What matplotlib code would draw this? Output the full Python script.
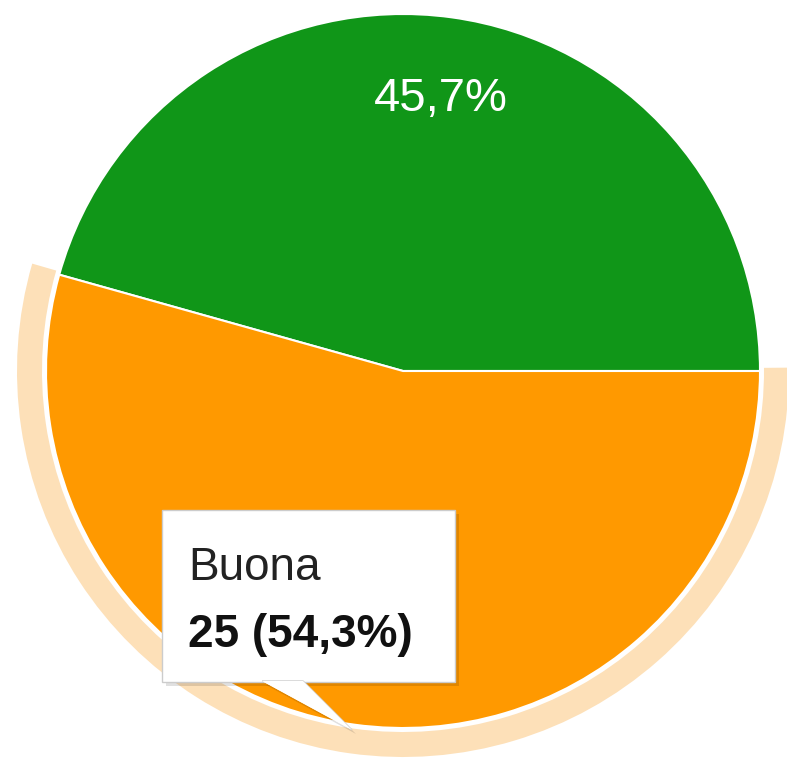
import matplotlib
matplotlib.use("Agg")
import matplotlib.pyplot as plt
import numpy as np
from matplotlib.patches import Wedge, Rectangle, Polygon

plt.rcParams["font.family"] = ["Liberation Sans", "DejaVu Sans"]

# data
labels = ["Altro", "Buona"]
counts = [21, 25]
colors = ["#109618", "#ff9900"]
pct_labels = ["45,7%", "54,3%"]
hover_idx = 1  # slice with tooltip / highlight

W, H = 787, 758
fig = plt.figure(figsize=(W / 100, H / 100), dpi=100)
ax = fig.add_axes([0, 0, 1, 1])

cx, cy, R = 403, H - 371, 357

wedges, _ = ax.pie(counts, colors=colors, startangle=0, counterclock=True,
                   center=(cx, cy), radius=R, frame=True,
                   wedgeprops=dict(edgecolor="white", linewidth=1.5))
ax.set_xlim(0, W)
ax.set_ylim(0, H)
ax.set_aspect("equal")
ax.axis("off")

# percentage label only on the slice without the tooltip
w0 = wedges[0]
mid = np.deg2rad((w0.theta1 + w0.theta2) / 2)
ax.text(cx + 0.77 * R * np.cos(mid), cy + 0.77 * R * np.sin(mid), pct_labels[0],
        color="white", fontsize=34, ha="center", va="center")

# highlight ring on hovered slice
wh = wedges[hover_idx]
ax.add_patch(Wedge((cx, cy), R + 29, wh.theta1 - 0.5, wh.theta2 + 0.5, width=25,
                   facecolor="#fde0b8", edgecolor="none", zorder=0))

# tooltip
bx0, by0, bx1, by1 = 162, H - 682, 455, H - 510
tail = [(262, by0 + 1), (303, by0 + 1), (352, H - 730)]
shadow_off = 4
ax.add_patch(Rectangle((bx0 + shadow_off, by0 - shadow_off), bx1 - bx0, by1 - by0,
                       facecolor="black", alpha=0.12, edgecolor="none", zorder=4))
ax.add_patch(Polygon([(x + shadow_off, y - shadow_off) for x, y in tail],
                     facecolor="black", alpha=0.12, edgecolor="none", zorder=4))
ax.add_patch(Rectangle((bx0, by0), bx1 - bx0, by1 - by0, facecolor="white",
                       edgecolor="#cccccc", linewidth=1, zorder=5))
ax.add_patch(Polygon(tail, closed=False, facecolor="white", edgecolor="#cccccc",
                     linewidth=1, zorder=5))
ax.add_patch(Polygon(tail, facecolor="white", edgecolor="none", zorder=6))

ax.text(188, H - 580, labels[hover_idx], fontsize=33, color="#222222",
        ha="left", va="baseline", zorder=7)
ax.text(188, H - 647, f"{counts[hover_idx]} ({pct_labels[hover_idx]})", fontsize=33,
        fontweight="bold", color="#111111", ha="left", va="baseline", zorder=7)

fig.savefig("out.png", dpi=100, facecolor="white")
